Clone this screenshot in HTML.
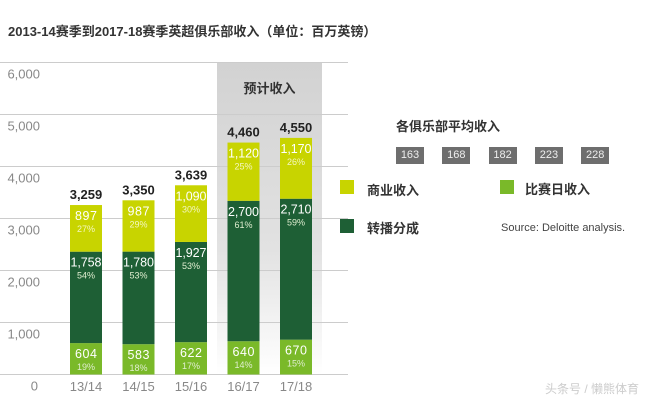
<!DOCTYPE html>
<html><head><meta charset="utf-8"><style>
body{margin:0;width:650px;height:400px;background:#fff;font-family:"Liberation Sans","Noto Sans CJK SC",sans-serif;position:relative;overflow:hidden}
.abs{position:absolute}
</style></head><body>
<div class="abs" style="left:8px;top:21px;font-size:13px;font-weight:bold;color:#333">2013-14赛季到2017-18赛季英超俱乐部收入（单位：百万英镑）</div>
<svg class="abs" style="left:0;top:0" width="650" height="400">
<defs><linearGradient id="g" x1="0" y1="0" x2="0" y2="1"><stop offset="0" stop-color="#d2d2d2"/><stop offset="0.6" stop-color="#e2e2e2"/><stop offset="1" stop-color="#fff"/></linearGradient></defs>
<g id="plot"></g>
</svg>
<div class="abs" style="left:396px;top:116px;font-size:13px;font-weight:bold;color:#333">各俱乐部平均收入</div>
<div id="avg"></div>
<div class="abs" style="left:340px;top:180px;width:14px;height:14px;background:#c8d400"></div>
<div class="abs" style="left:367px;top:180px;font-size:13px;font-weight:bold;color:#333">商业收入</div>
<div class="abs" style="left:500px;top:180px;width:14px;height:14px;background:#7ab929"></div>
<div class="abs" style="left:525px;top:179px;font-size:13px;font-weight:bold;color:#333">比赛日收入</div>
<div class="abs" style="left:340px;top:219px;width:14px;height:14px;background:#1e5f35"></div>
<div class="abs" style="left:367px;top:218px;font-size:13px;font-weight:bold;color:#333">转播分成</div>
<div class="abs" style="left:501px;top:222px;font-size:11px;color:#444">Source: Deloitte analysis.</div>
<div class="abs" style="left:545px;top:380px;font-size:12px;color:#ccc">头条号 / 懒熊体育</div>
<script>
const categories=["13/14","14/15","15/16","16/17","17/18"];
const matchday=[604,583,622,640,670];
const broadcast=[1758,1780,1927,2700,2710];
const commercial=[897,987,1090,1120,1170];
const totals=[3259,3350,3639,4460,4550];
const pctMatch=["19%","18%","17%","14%","15%"];
const pctBroad=["54%","53%","53%","61%","59%"];
const pctComm=["27%","29%","30%","25%","26%"];
const avgPerClub=[163,168,182,223,228];
const yTicks=[0,1000,2000,3000,4000,5000,6000];
const ns="http://www.w3.org/2000/svg";
const g=document.getElementById('plot');
const y=v=>374.5-v*312/6000;
const x=i=>70+i*52.5;
const bw=32;
function el(t,a){const e=document.createElementNS(ns,t);for(const k in a)e.setAttribute(k,a[k]);g.appendChild(e);return e;}
const fmt=v=>v.toLocaleString('en-US');
const band=el('rect',{x:217,y:y(6000),width:105,height:y(0)-y(6000),fill:'url(#g)'});

const bt=el('text',{x:269.5,y:93,'text-anchor':'middle','font-size':13,'font-weight':'bold',fill:'#333'});bt.textContent='预计收入';

yTicks.forEach(t=>{
 const l=el('line',{x1:0,x2:348,y1:y(t),y2:y(t),stroke:'#ccc','stroke-width':1});
 
 const tx=el('text',{x:t==0?38:40,y:y(t)+16,'text-anchor':'end','font-size':13,fill:'#888'});tx.textContent=t==0?'0':fmt(t);
 
});
function txt(s,xx,yy,size,fill,w){const t=el('text',{x:xx,y:yy,'text-anchor':'middle','font-size':size,fill:fill,'font-weight':w||'normal'});t.textContent=s;return t;}
categories.forEach((c,i)=>{
 const x0=x(i),cx=x0+bw/2;
 const segs=[[0,matchday[i],'#7ab929',pctMatch[i]],[matchday[i],matchday[i]+broadcast[i],'#1e5f35',pctBroad[i]],[matchday[i]+broadcast[i],matchday[i]+broadcast[i]+commercial[i],'#c8d400',pctComm[i]]];
 const vals=[matchday[i],broadcast[i],commercial[i]];
 const names=['bar-matchday','bar-broadcast','bar-commercial'];
 segs.forEach((s,k)=>{
  const r=el('rect',{x:x0,y:y(s[1]),width:bw,height:y(s[0])-y(s[1]),fill:s[2]});
  
  const v=txt(fmt(vals[k]),cx,y(s[1])+15,12.5,'#fff');
  v.setAttribute('textLength',vals[k]>=1000?31:22);
  
  const p=txt(s[3],cx,y(s[1])+27,9,k==2?'#f4f7c0':'#e0eed0');
  
 });
 const tt=txt(fmt(totals[i]),cx,y(totals[i])-6,13,'#222','bold');
 
 const xl=txt(c,cx,391,13,'#888');
 
});
const av=document.getElementById('avg');
avgPerClub.forEach((v,i)=>{
 const d=document.createElement('div');
 
 
 d.className='abs';
 d.style.cssText=`left:${396+i*46.3}px;top:147px;width:28px;height:17px;background:#6e6e6e;color:#eee;font-size:11px;line-height:17px;text-align:center`;
 d.textContent=v;av.appendChild(d);
});
</script>
</body></html>
